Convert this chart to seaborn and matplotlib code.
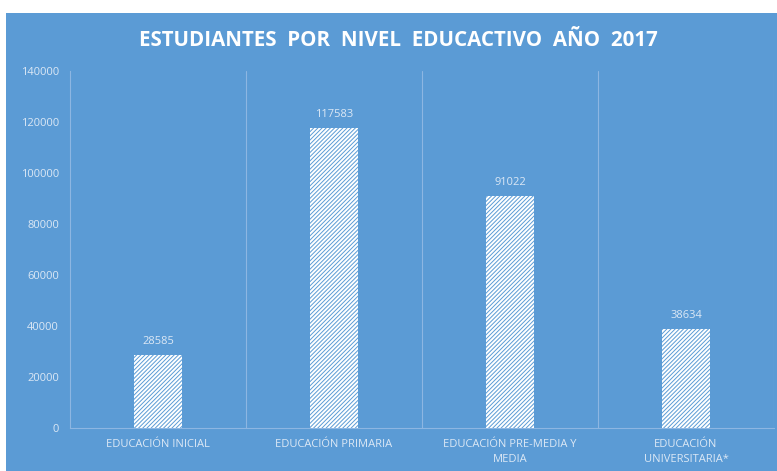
import matplotlib
matplotlib.use("Agg")
import matplotlib.pyplot as plt
import seaborn as sns
import pandas as pd
from matplotlib.patches import Rectangle

# datos
niveles = ["EDUCACIÓN INICIAL", "EDUCACIÓN PRIMARIA",
           "EDUCACIÓN PRE-MEDIA Y\nMEDIA", "EDUCACIÓN\nUNIVERSITARIA*"]
estudiantes = [28585, 117583, 91022, 38634]
y_ticks = [0, 20000, 40000, 60000, 80000, 100000, 120000, 140000]

azul = "#5B9BD5"
texto = "#DCE8F5"
linea = "#8DB6E2"

sns.set_theme(style="white")
plt.rcParams["font.family"] = ["Open Sans", "DejaVu Sans"]
plt.rcParams["hatch.linewidth"] = 0.7

df = pd.DataFrame({"nivel": niveles, "estudiantes": estudiantes})

fig = plt.figure(figsize=(7.77, 4.71), dpi=100, facecolor="white")
fig.patches.append(Rectangle((6 / 777, 0), 1, 1 - 13 / 471, transform=fig.transFigure,
                             facecolor=azul, edgecolor="none", zorder=-10))
ax = fig.add_axes([70 / 777, 1 - 428 / 471, 704 / 777, (428 - 71) / 471])
ax.set_facecolor(azul)

sns.barplot(data=df, x="nivel", y="estudiantes", ax=ax, width=0.27,
            color="white", saturation=1, zorder=3)
for p in ax.patches:
    p.set_facecolor("white")
    p.set_edgecolor(azul)
    p.set_hatch("////////")
    p.set_linewidth(0)

for i, v in enumerate(estudiantes):
    ax.text(i, v + 3200, str(v), ha="center", va="bottom", color=texto, fontsize=8)

ax.set_ylim(0, 140000)
ax.set_xlim(-0.5, 3.5)
ax.set_yticks(y_ticks)
ax.set_yticklabels([str(t) for t in y_ticks], color=texto, fontsize=8)
ax.set_xticks(range(len(niveles)))
ax.set_xticklabels(niveles, color=texto, fontsize=8, linespacing=1.5)
ax.tick_params(axis="both", length=0, pad=8)
ax.set_xlabel("")
ax.set_ylabel("")

for s in ["top", "right"]:
    ax.spines[s].set_visible(False)
for s in ["left", "bottom"]:
    ax.spines[s].set_color(linea)
    ax.spines[s].set_linewidth(0.8)
for xb in [0.5, 1.5, 2.5, 3.5]:
    ax.axvline(xb, color=linea, linewidth=0.8, zorder=1)

fig.text(398 / 777, 1 - 41 / 471, "ESTUDIANTES  POR  NIVEL  EDUCACTIVO  AÑO  2017",
         ha="center", va="center", color="white", fontsize=14.8, fontweight="bold")

fig.savefig("out.png", dpi=100)
